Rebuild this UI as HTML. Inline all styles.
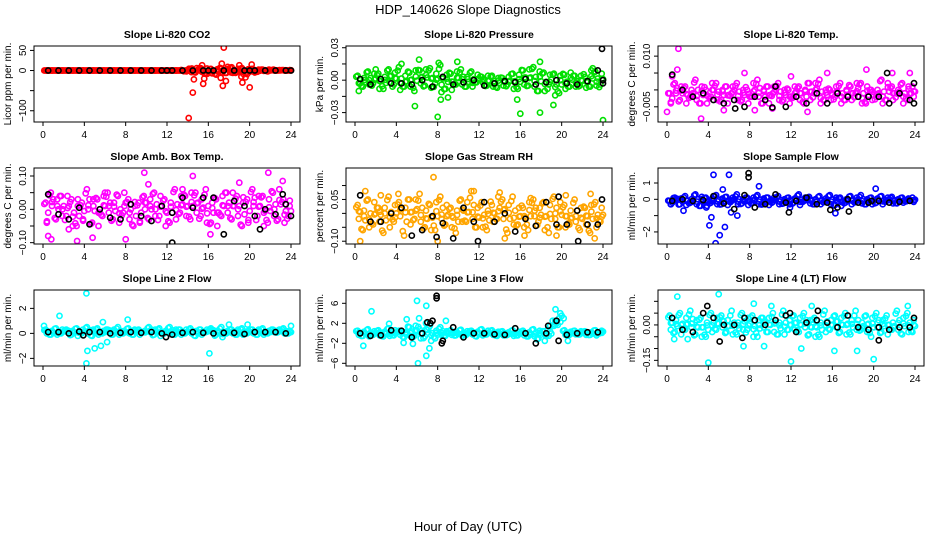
<!DOCTYPE html>
<html><head><meta charset="utf-8">
<style>
html,body{margin:0;padding:0;background:#fff;}
svg{display:block;font-family:"Liberation Sans",Arial,sans-serif;}
</style></head>
<body>
<svg id="chart" width="936" height="540" viewBox="0 0 936 540">
<text x="468" y="14" text-anchor="middle" font-size="13">HDP_140626  Slope Diagnostics</text>
<text x="468" y="531" text-anchor="middle" font-size="13">Hour of Day (UTC)</text>
</svg>
<script>
// x tick labels
const xTicks = [0,4,8,12,16,20,24];
// panel titles / units
const titles = ["Slope Li-820 CO2","Slope Li-820 Pressure","Slope Li-820 Temp.","Slope Amb. Box Temp.","Slope Gas Stream RH","Slope Sample Flow","Slope Line 2 Flow","Slope Line 3 Flow","Slope Line 4 (LT) Flow"];
const yTitles = ["Licor ppm per min.","kPa per min.","degrees C per min.","degrees C per min.","percent per min.","ml/min per min.","ml/min per min.","ml/min per min.","ml/min per min."];
const colors = ["#ff0000","#00e000","#ff00ff","#ff00ff","#ffa500","#0000ff","#00ffff","#00ffff","#00ffff"];
// y axis ranges (box edges) and ticks
const yMin = [-128,-0.0387,-0.0095,-0.104,-0.11,-2.74,-2.61,-6.54,-0.174];
const yMax = [61,0.0316,0.013,0.124,0.163,1.92,3.47,8.66,0.148];
const yTickVals = [[-100,-50,0,50],[-0.03,-0.015,0,0.015,0.03],[-0.005,0,0.005,0.01],[-0.1,-0.05,0,0.05,0.1],[-0.1,-0.05,0,0.05,0.1],[-2,-1,0,1],[-2,0,2],[-6,-2,2,6],[-0.15,-0.1,-0.05,0,0.05,0.1]];
const yTickLabels = [["\u2212100","","0","50"],["\u22120.03","","0.00","","0.03"],["\u22120.005","","","0.010"],["\u22120.10","","0.00","","0.10"],["\u22120.10","","","0.05",""],["\u22122","","0","1"],["\u22122","0","2"],["\u22126","\u22122","2","6"],["\u22120.15","","","0.00","",""]];

// colored series A and B (sampled at half-hour slots)
const seriesA = [
[0,0,0,0,0,0,0,0,0,0,0,0,0,0,0,0,0,0,0,0,0,0,0,0,0,0,0,0,3,-5,6,-8,4,-10,5,-6,8,-4,6,-9,4,-3,2,-2,1,0,1,0],
[0.004,-0.006,0.008,-0.003,0.006,-0.008,0.010,-0.004,0.012,-0.006,0.007,-0.010,0.009,-0.005,0.011,-0.003,0.014,-0.008,0.006,-0.004,0.010,-0.006,0.008,-0.002,0.003,-0.005,0.004,-0.007,0.002,-0.004,0.006,-0.008,0.009,-0.005,0.012,-0.010,0.007,-0.004,0.006,-0.012,0.005,-0.006,0.004,-0.005,0.003,-0.006,0.008,-0.004],
[-0.001,0.002,-0.003,0.001,-0.002,0.003,-0.004,0.000,-0.002,0.002,-0.003,0.001,-0.001,0.002,-0.003,0.000,-0.002,0.003,-0.004,0.001,-0.001,0.002,-0.003,0.000,-0.002,0.001,-0.004,0.002,-0.001,0.003,-0.003,0.000,-0.002,0.002,-0.003,0.001,-0.001,0.002,-0.004,0.000,-0.002,0.003,-0.003,0.001,-0.001,0.002,-0.003,0.001],
[0.02,0.05,-0.03,0.04,-0.02,0.03,-0.05,0.02,0.06,-0.04,0.03,-0.02,0.05,-0.03,0.04,-0.01,0.03,-0.05,0.02,0.04,-0.03,0.05,-0.02,0.03,-0.04,0.06,-0.01,0.04,-0.03,0.05,-0.02,0.06,-0.04,0.03,-0.02,0.05,-0.03,0.04,-0.05,0.03,0.06,-0.02,0.04,-0.04,0.05,-0.03,0.03,-0.02],
[0.03,-0.06,0.05,-0.04,0.02,-0.07,0.06,-0.03,0.04,-0.08,0.05,-0.02,0.07,-0.05,0.03,-0.06,0.06,-0.04,0.02,-0.07,0.05,-0.03,0.08,-0.05,0.04,-0.06,0.03,-0.02,0.05,-0.07,0.06,-0.04,0.02,-0.06,0.05,-0.03,0.04,-0.07,0.06,-0.05,0.03,-0.04,0.05,-0.06,0.02,-0.07,0.04,-0.03],
[-0.1,0.1,-0.3,0.2,-0.2,0.3,-0.4,0.1,-0.2,0.25,-0.3,0.15,-0.1,0.3,-0.25,0.1,-0.2,0.25,-0.3,0.1,-0.15,0.2,-0.25,0.1,-0.2,0.3,-0.1,0.15,-0.3,0.2,-0.1,0.25,-0.35,0.1,-0.2,0.2,-0.15,0.25,-0.3,0.1,-0.2,0.2,-0.1,0.15,-0.25,0.1,-0.1,0.1],
[0.3,-0.1,0.4,0.0,0.3,-0.1,0.4,0.0,0.5,-0.2,0.4,0.0,0.3,-0.1,0.5,0.0,0.4,-0.1,0.3,0.1,0.5,-0.1,0.4,0.0,0.5,-0.1,0.3,0.0,0.4,-0.2,0.3,0.1,0.4,-0.1,0.5,0.0,0.3,-0.1,0.4,0.0,0.3,-0.1,0.4,0.0,0.3,0.1,0.4,0.0],
[0.5,-0.5,0.8,-0.3,0.6,-0.6,1.0,-0.4,0.5,-0.8,1.2,-0.5,0.8,-0.6,1.5,-1.0,1.2,-0.5,0.6,-0.4,0.7,-0.3,0.5,-0.6,0.8,-0.2,0.6,-0.5,0.4,-0.3,0.6,-0.4,0.5,-0.6,0.8,-1.0,0.4,-0.5,1.5,3.0,0.6,-0.3,0.5,-0.2,0.4,-0.3,0.6,0.2],
[0.04,-0.03,0.05,-0.02,0.06,-0.04,0.03,-0.05,0.05,-0.02,0.04,-0.03,0.06,-0.04,0.05,-0.02,0.04,-0.05,0.03,-0.03,0.05,-0.04,0.06,-0.02,0.04,-0.03,0.05,-0.04,0.03,-0.05,0.06,-0.02,0.04,-0.03,0.05,-0.04,0.06,-0.02,0.04,-0.05,0.05,-0.03,0.04,-0.02,0.06,-0.04,0.05,-0.03]
];
const seriesB = [
[0,0,0,0,0,0,0,0,0,0,0,0,0,0,0,0,0,0,0,0,0,0,0,0,0,0,0,0,-4,6,-3,5,-7,3,-5,9,-6,4,-8,3,-2,2,-1,2,0,1,0,1],
[-0.010,0.002,-0.004,0.006,-0.008,0.003,-0.002,0.007,-0.009,0.004,-0.006,0.009,-0.003,0.010,-0.007,0.006,-0.011,0.005,-0.009,0.008,-0.004,0.003,-0.006,0.005,-0.002,0.004,-0.006,0.002,-0.005,0.003,-0.008,0.005,-0.004,0.010,-0.006,0.008,-0.010,0.005,-0.014,0.004,-0.008,0.007,-0.006,0.004,-0.007,0.009,-0.005,0.006],
[-0.004,-0.001,0.001,-0.004,0.000,-0.003,0.001,-0.004,0.002,-0.003,0.000,-0.004,0.001,-0.003,0.000,-0.004,0.002,-0.002,0.000,-0.004,0.001,-0.003,0.000,-0.004,0.001,-0.003,0.000,-0.003,0.002,-0.004,0.000,-0.003,0.001,-0.004,0.000,-0.003,0.002,-0.004,0.001,-0.003,0.000,-0.004,0.002,-0.003,0.000,-0.004,0.001,-0.002],
[-0.04,0.01,0.03,-0.02,0.04,-0.05,0.01,-0.03,0.00,0.03,-0.05,0.04,-0.01,0.02,-0.04,0.05,-0.03,0.01,-0.04,0.00,0.03,-0.02,0.04,-0.05,0.02,-0.03,0.04,-0.02,0.05,-0.01,0.03,-0.04,0.02,-0.05,0.04,-0.01,0.05,-0.02,0.02,-0.04,0.01,0.04,-0.05,0.03,-0.02,0.06,-0.04,0.01],
[-0.02,0.01,-0.05,0.04,-0.03,0.02,-0.05,0.03,-0.01,0.02,-0.04,0.05,-0.03,0.01,-0.06,0.04,-0.02,0.03,-0.05,0.01,-0.03,0.04,-0.02,0.02,-0.05,0.01,-0.03,0.06,-0.02,0.03,-0.04,0.02,-0.05,0.04,-0.01,0.02,-0.06,0.03,-0.02,0.04,-0.05,0.01,-0.03,0.02,-0.04,0.03,-0.05,0.02],
[-0.3,-0.05,0.05,-0.35,0.0,-0.3,0.15,-0.4,0.05,-0.3,0.05,-0.35,0.1,-0.3,0.0,-0.35,0.1,-0.3,0.05,-0.35,0.1,-0.3,0.0,-0.3,0.05,-0.35,0.1,-0.25,0.0,-0.3,0.05,-0.3,0.1,-0.4,0.0,-0.3,0.1,-0.25,0.0,-0.3,0.05,-0.3,0.1,-0.25,0.0,-0.2,0.05,-0.15],
[0.0,0.2,-0.1,0.3,0.1,0.2,-0.2,0.3,0.0,0.3,-0.1,0.2,0.1,0.3,-0.1,0.2,0.0,0.3,-0.1,0.2,0.1,0.3,-0.2,0.2,0.0,0.3,-0.1,0.3,0.0,0.2,-0.1,0.3,0.1,0.2,-0.3,0.2,0.0,0.3,-0.1,0.2,0.0,0.3,-0.1,0.2,0.1,0.3,0.0,0.2],
[-0.3,0.3,-0.6,0.4,-0.4,0.3,-0.5,0.6,-0.3,0.2,-0.5,1.5,-1.0,2.0,-1.5,0.5,-0.3,0.4,-0.3,0.2,-0.5,0.4,-0.2,0.3,-0.4,0.5,-0.3,0.3,-0.4,0.2,-0.5,0.3,-0.4,0.2,-0.6,0.5,-1.5,0.4,2.5,4.0,-0.3,0.3,-0.2,0.4,-0.3,0.2,-0.4,0.5],
[-0.02,0.02,-0.04,0.03,-0.01,0.02,-0.05,0.01,-0.03,0.03,-0.01,0.02,-0.04,0.01,-0.02,0.03,-0.05,0.02,-0.01,0.03,-0.03,0.01,-0.04,0.02,-0.02,0.03,-0.01,0.02,-0.05,0.01,-0.03,0.02,-0.01,0.03,-0.04,0.02,-0.02,0.01,-0.03,0.03,-0.01,0.02,-0.04,0.01,-0.02,0.03,-0.03,0.02]
];
// colored outliers: [hour, value]
const outliers = [
[[14.1,-118],[14.5,-55],[14.6,-22],[15.4,13],[15.5,-33],[15.6,-20],[17.3,17],[17.5,57],[17.2,-18],[17.4,-38],[17.7,-26],[19,13],[19.2,-15],[19.3,-30],[19.6,-17],[20,-42],[20.2,15],[14.4,5],[15.9,-8],[18.2,-5],[20.5,-5],[22.3,2]],
[[4.5,0.015],[6.2,0.019],[8.1,0.016],[9.9,0.017],[5.8,-0.024],[8,-0.034],[8.3,-0.018],[9,-0.016],[15.7,-0.018],[16,-0.031],[17.9,0.017],[17.9,-0.030],[19.2,-0.023],[24,-0.037],[2,0.010],[23,0.011]],
[[0,-0.0065],[1.1,0.0122],[3.3,-0.0085],[0.5,0.004],[1,0.006],[7.5,0.005],[13.6,-0.0065],[15.5,0.005],[19.3,0.006],[21.8,0.005],[23.5,0.005],[10.2,-0.0055],[5.5,-0.006],[8.5,-0.006],[12,0.004]],
[[0.5,-0.08],[0.8,-0.09],[3.3,-0.095],[4.8,-0.085],[9.8,0.11],[10.2,0.075],[14.5,0.1],[16.2,-0.075],[19,0.08],[21.8,0.11],[23.2,0.085],[8,-0.09],[2.5,-0.06],[6,0.05],[13.5,0.06]],
[[0.5,-0.1],[1,0.08],[2.5,0.065],[7.6,0.13],[4.2,0.07],[11.5,0.08],[14,0.075],[22.8,0.07],[20.4,0.065],[8,-0.1],[14.5,-0.09],[16.4,-0.08],[23.2,-0.09],[17,0.055],[19.5,-0.08]],
[[4.5,1.5],[6,1.5],[4.7,-2.7],[5.1,-2.2],[4.3,-1.1],[4.1,-1.6],[5.6,-1.7],[6.8,-1.0],[3.8,-0.5],[1.6,-0.7],[8.9,0.8],[20.2,0.65],[5.4,0.6],[16.3,-0.85],[11.9,-0.5],[6.2,-0.8]],
[[4.2,3.2],[1.6,1.4],[8.2,1.1],[4.2,-2.4],[4.3,-1.4],[5,-1.2],[5.6,-1.0],[6.2,-0.7],[16.1,-1.6],[0.1,0.6],[24,0.6],[19.8,0.7],[5.8,0.9],[18,0.7]],
[[0.8,-2.5],[1.6,4.4],[6,6.5],[6.9,5.5],[6.1,-6],[6.9,-4.5],[7.2,-3],[4.7,-1.9],[5.6,-2.1],[8.8,2.5],[3.3,1.9],[19.4,4.8],[20.2,3],[20.6,-1.5],[5,2.8],[6.2,3]],
[[1,0.12],[5,0.13],[8.4,0.09],[10.1,0.08],[14,0.08],[23.3,0.08],[4,-0.16],[12,-0.155],[20,-0.145],[13,-0.1],[16.2,-0.11],[18.4,-0.11],[7.4,-0.09],[9.4,-0.09],[0.7,-0.06],[2,-0.06]]
];
// black hourly points (at hour+0.5)
const blackSeries = [
[0,0,0,0,0,0,0,0,0,0,0,0,0,0,0,0,0,0,0,0,0,0,0,0],
[0.001,-0.004,0.001,-0.003,-0.003,-0.004,0.000,-0.006,0.003,-0.004,-0.002,0.000,-0.005,-0.003,-0.001,-0.002,0.001,-0.004,-0.002,0.000,-0.003,-0.004,-0.001,0.009],
[0.0045,0.000,-0.002,-0.001,-0.003,-0.004,-0.003,-0.005,-0.002,-0.003,0.001,-0.005,-0.002,-0.004,-0.001,-0.004,-0.001,-0.002,-0.002,-0.002,-0.002,-0.004,-0.001,-0.003],
[0.045,-0.015,-0.03,0.005,-0.045,0.0,-0.025,-0.03,0.015,-0.02,-0.035,0.01,-0.01,0.035,0.005,0.035,0.035,-0.075,0.025,0.01,-0.02,0.0,-0.015,0.015],
[0.065,-0.03,-0.03,0.0,0.02,-0.08,-0.06,-0.01,-0.035,-0.09,0.02,-0.03,0.04,-0.03,0.0,-0.065,-0.02,-0.045,0.04,-0.04,-0.04,0.01,-0.04,-0.04],
[-0.1,0.0,-0.1,-0.05,0.2,-0.25,-0.6,0.25,-0.5,-0.3,0.3,-0.2,-0.1,0.1,-0.3,-0.2,-0.5,0.0,-0.2,-0.2,-0.1,-0.2,-0.15,-0.1],
[0.1,0.1,0.0,0.15,0.1,0.1,0.0,0.05,0.1,0.05,0.1,0.0,-0.1,0.05,0.1,0.05,0.0,0.05,0.05,-0.05,0.1,0.1,0.1,0.0],
[0.0,-0.5,-0.4,0.6,0.5,-0.8,0.0,2.5,-1.5,1.2,-0.8,0.0,0.0,-0.2,-0.3,1.0,0.0,-2.0,0.0,2.5,-0.3,0.0,0.2,0.2],
[0.03,-0.02,-0.03,0.05,0.03,0.0,0.0,0.03,0.02,0.0,0.02,0.04,-0.03,0.01,0.02,0.01,-0.01,0.04,-0.01,-0.02,-0.01,-0.02,-0.01,-0.01]
];
const blackExtras = [
[[12,0],[16,0],[20,0],[24,0]],
[[23.9,0.029],[24,-0.003],[24,0.000]],
[[21.3,0.005],[23.9,0.002],[23.9,-0.004],[10.2,-0.0052],[6.6,-0.0055]],
[[12.5,-0.1],[23.2,0.045],[21,-0.06],[24,-0.02]],
[[11.9,-0.1],[21.6,-0.1],[23.9,0.05],[19.7,0.06],[7.9,-0.085]],
[[7.9,1.6],[7.9,1.35],[11.8,-0.8],[15.8,-0.65],[17.6,-0.75],[19.8,-0.1]],
[[11.9,-0.3],[3.9,-0.15]],
[[7.9,7.5],[7.9,7.0],[8.4,-2.0],[7,2.2],[19.7,-1.5],[18.7,1.5],[7.3,2.0]],
[[3.9,0.08],[5.1,-0.07],[7.3,-0.055],[11.9,0.05],[14.6,0.06],[20.5,-0.065],[23.9,0.03]]
];

const NS = "http://www.w3.org/2000/svg";
const svg = document.getElementById("chart");
const colLeft = [34,346,658], rowTop = [46,168,290], boxW = 266, boxH = 76;
function mk(tag, attrs, parent){ const e=document.createElementNS(NS,tag); for(const k in attrs) e.setAttribute(k,attrs[k]); (parent||svg).appendChild(e); return e; }

for(let p=0;p<9;p++){
  const L = colLeft[p%3], T = rowTop[Math.floor(p/3)];
  const g = mk("g",{});
  
  
  const xs = h => L + 9 + h*(248/24);
  const ys = v => T + (yMax[p]-v)/(yMax[p]-yMin[p])*boxH;
  const clip = mk("clipPath",{id:"c"+p},g);
  mk("rect",{x:L,y:T,width:boxW,height:boxH},clip);
  const t = mk("text",{x:L+boxW/2,y:T-8,"text-anchor":"middle","font-size":"10.5","font-weight":"bold"},g);
  t.textContent = titles[p];
  
  
  const pts = mk("g",{"clip-path":"url(#c"+p+")",fill:"none","stroke-width":"1.6"},g);
  
  
  const dot = (h,v,col) => { const c = mk("circle",{cx:xs(h).toFixed(1),cy:ys(v).toFixed(1),r:"2.6",stroke:col},pts);
    
     };
  const A = seriesA[p], B = seriesB[p];
  A.forEach((v,i)=>dot(0.25+i*0.5,v,colors[p]));
  B.forEach((v,i)=>dot(0.25+i*0.5+0.12,v,colors[p]));
  A.forEach((v,i)=>dot(0.5+i*0.5,(v+B[i])/2,colors[p]));
  A.forEach((v,i)=>dot(0.13+i*0.5,0.6*v+0.4*B[(i+1)%B.length],colors[p]));
  B.forEach((v,i)=>dot(0.38+i*0.5,0.6*v+0.4*A[(i+2)%A.length],colors[p]));
  outliers[p].forEach(o=>dot(o[0],o[1],colors[p]));
  blackSeries[p].forEach((v,i)=>dot(0.5+i,v,"#000"));
  blackExtras[p].forEach(o=>dot(o[0],o[1],"#000"));
  const box = mk("rect",{x:L,y:T,width:boxW,height:boxH,fill:"none",stroke:"#000","stroke-width":"1"},g);
  
  
  xTicks.forEach(h=>{
    mk("line",{x1:xs(h),x2:xs(h),y1:T+boxH,y2:T+boxH+4,stroke:"#000"},g);
    const tl = mk("text",{x:xs(h),y:T+boxH+16,"text-anchor":"middle","font-size":"10"},g);
    tl.textContent = h;
    
    
  });
  yTickVals[p].forEach((v,i)=>{
    const y = ys(v);
    mk("line",{x1:L-4,x2:L,y1:y,y2:y,stroke:"#000"},g);
    if(yTickLabels[p][i]){
      const tl = mk("text",{x:L-8,y:y,"text-anchor":"middle","font-size":"10",transform:"rotate(-90 "+(L-8)+" "+y+")"},g);
      tl.textContent = yTickLabels[p][i];
      
      
    }
  });
  const yt = mk("text",{x:L-23,y:T+boxH/2,"text-anchor":"middle","font-size":"10",transform:"rotate(-90 "+(L-23)+" "+(T+boxH/2)+")"},g);
  yt.textContent = yTitles[p];
  
  
}
</script>
</body></html>
